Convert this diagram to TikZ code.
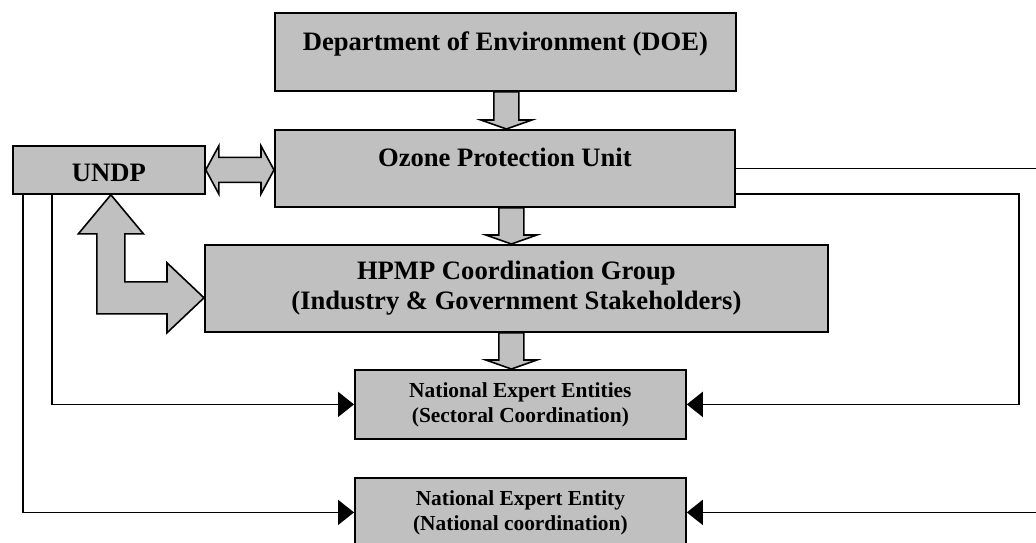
\documentclass[tikz,border=0pt]{standalone}
\usepackage{fontspec}
\setmainfont{Liberation Serif}
\usepackage{tikz}
\usetikzlibrary{arrows.meta,calc}

\definecolor{boite}{RGB}{192,192,192}

% Grosse fleche verticale entre deux boites (#3 : decalage horizontal)
\newcommand{\grossefleche}[3]{%
  \draw[fleche] let \p1=($(#1.south)+(#3,0)$), \p2=(#2.north) in
    (\x1-12.5pt,\y1) -- (\x1-12.5pt,\y2+9pt) -- (\x1-25.5pt,\y2+9pt)
    -- (\x1,\y2) -- (\x1+25.5pt,\y2+9pt) -- (\x1+12.5pt,\y2+9pt)
    -- (\x1+12.5pt,\y1) -- cycle;}

\begin{document}
\begin{tikzpicture}[x=1pt, y=-1pt,
  bloc/.style={draw, line width=1.8pt, fill=boite, anchor=north west, inner sep=0pt, align=center,
    font=\fontsize{26.6pt}{30pt}\selectfont\bfseries},
  petit/.style={bloc, font=\fontsize{21.4pt}{25pt}\selectfont\bfseries},
  fleche/.style={draw, line width=1.6pt, fill=boite, line join=miter},
  lien/.style={line width=1.8pt, -{Triangle[length=16pt,width=25pt]}}]

\useasboundingbox (0,0) rectangle (1036,542);

% Boite du haut - DOE
\node[bloc, minimum width=461pt, text height=38pt, text depth=40pt] (doe) at (274,12) {Department of Environment (DOE)};

% Unite de protection de l'ozone
\node[bloc, minimum width=460pt, text height=37pt, text depth=40pt] (opu) at (274,129) {Ozone Protection Unit};

% PNUD a gauche
\node[bloc, minimum width=192pt, text height=36pt, text depth=12pt] (undp) at (12,145) {UNDP};

% Groupe de coordination HPMP
\node[bloc, minimum width=623pt, minimum height=87pt] (hpmp) at (204,244) {HPMP Coordination Group\\(Industry \& Government Stakeholders)};

% Entites d'experts (sectoriel et national)
\node[petit, minimum width=331pt, minimum height=69pt] (nee) at (354,369) {National Expert Entities\\(Sectoral Coordination)};
\node[petit, minimum width=331pt, minimum height=69pt] (nee2) at (354,477) {National Expert Entity\\(National coordination)};

% Grosses fleches vers le bas
\grossefleche{doe}{opu}{1pt}
\grossefleche{opu}{hpmp}{6.5pt}
\grossefleche{hpmp}{nee}{-5pt}

% Double fleche UNDP - OPU
\draw[fleche] let \p1=(undp.east), \p2=(opu.west) in
  (\x1,\y1) -- (\x1+13pt,\y1+24pt) -- (\x1+13pt,\y1+12.5pt) -- (\x2-13pt,\y1+12.5pt)
  -- (\x2-13pt,\y1+24pt) -- (\x2,\y1) -- (\x2-13pt,\y1-24pt) -- (\x2-13pt,\y1-12.5pt)
  -- (\x1+13pt,\y1-12.5pt) -- (\x1+13pt,\y1-24pt) -- cycle;

% Fleche en L entre UNDP et HPMP
\draw[fleche] let \p1=($(undp.south)+(2,0)$), \p2=(hpmp.south west) in
  (\x1,\y1) -- (\x1+32.5pt,\y1-39pt) -- (\x1+14pt,\y1-39pt) -- (\x1+14pt,\y2+51pt)
  -- (\x2-37pt,\y2+51pt) -- (\x2-37pt,\y2+70pt) -- (\x2,\y2+35pt) -- (\x2-37pt,\y2)
  -- (\x2-37pt,\y2+19pt) -- (\x1-14pt,\y2+19pt) -- (\x1-14pt,\y1-39pt)
  -- (\x1-32.5pt,\y1-39pt) -- cycle;

% Liaisons depuis UNDP
\draw[lien] ([xshift=40pt]undp.south west) |- (nee.west);
\draw[lien] ([xshift=11pt]undp.south west) |- (nee2.west);

% Liaisons depuis OPU (a droite)
\draw[lien] ([yshift=-25.5pt]opu.east) -- ++(283,0) |- (nee.east);
\draw[lien] (opu.east) -- ++(311,0) |- (nee2.east);

\end{tikzpicture}
\end{document}
